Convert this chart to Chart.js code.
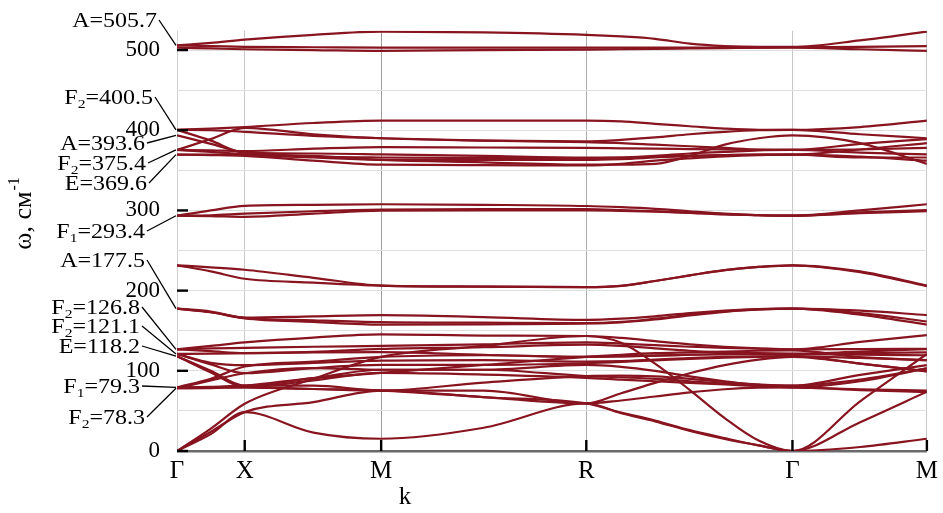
<!DOCTYPE html>
<html><head><meta charset="utf-8">
<script src="https://cdn.jsdelivr.net/npm/chart.js@4.4.0/dist/chart.umd.min.js"></script>
<style>html,body{margin:0;padding:0;background:#fff;}#wrap{width:943px;height:513px;}</style>
</head><body><div id="wrap"><canvas id="c" width="943" height="513"></canvas></div>
<script>
// k-path sample positions (Γ, X, M, R, Γ, M and points between)
const kGrid = [0, 34, 68, 137, 205, 308, 411, 446, 480, 515, 550, 584, 618, 686, 753];
const symK = [0, 68, 205, 411, 618, 753];
const symLabels = ['Γ', 'X', 'M', 'R', 'Γ', 'M'];
const yGridValues = [0, 50, 100, 150, 200, 250, 300, 350, 400, 450, 500];
const yLabelValues = [0, 100, 200, 300, 400, 500];

// phonon branches, ω (cm^-1) at each kGrid point
const bands500 = [
  [505.7, 509, 513, 519, 523, 522, 519, 517, 514, 508, 505, 504, 504, 512, 523],
  [505.7, 505, 504, 503.5, 503, 503, 503, 503, 503, 503, 503, 503, 503.5, 504, 505],
  [503, 502, 501, 500, 499, 500, 500.5, 501, 501.5, 502, 502.5, 503, 503, 501, 499]
];
const bands400 = [
  [400.5, 402, 404, 409, 412, 412, 412, 411, 408, 405, 402, 400.5, 400.5, 404, 412],
  [400.5, 387, 372, 371, 370, 368, 366, 366, 367, 368, 369, 369.5, 369.6, 366, 366],
  [400.5, 400, 398, 393, 390, 387, 386, 388, 391, 395, 398, 400, 400.5, 395, 390],
  [393.6, 383, 372, 368, 363, 360, 357, 357, 358, 368, 382, 390, 393.6, 384, 358],
  [375.4, 389, 403, 395, 390, 387, 385, 384, 382, 380, 378, 376, 375.4, 383, 389],
  [375.4, 375, 374, 377, 379, 378.5, 378, 377.5, 377, 376.5, 376, 375.5, 375.4, 376, 378],
  [375.4, 373, 370, 367, 366, 365.5, 365, 366, 368, 371, 373, 375, 375.4, 372, 370],
  [369.6, 369, 368, 362, 357, 356.5, 356, 358, 362, 365, 367.5, 369, 369.6, 367, 362],
  [369.6, 369.5, 369, 366, 363, 363, 363, 364, 366, 368, 369, 369.5, 369.6, 376, 384]
];
const bands300 = [
  [293.4, 300, 305.7, 307, 307.7, 307, 305.5, 304, 302, 299, 296, 294, 293.4, 300, 307.7],
  [293.4, 293, 292, 296, 299.7, 300, 300, 299.5, 298.5, 297, 295.5, 294, 293.4, 296.5, 299],
  [293.4, 294, 296, 299, 301, 301.5, 301.5, 300.5, 299, 297, 295, 294, 293.4, 297.5, 300.5]
];
const bands230 = [
  [231.6, 229, 226, 216, 206.3, 205, 204.3, 206, 212, 219, 225.5, 229.5, 231.6, 224, 206.3],
  [231.6, 224, 214.8, 210, 206.3, 205, 204.3, 206, 212, 219, 225.5, 229.5, 231.6, 223, 205.5]
];
const bands170 = [
  [177.5, 174, 166.3, 168, 169.5, 167, 163.5, 165, 168, 172, 175, 177, 177.5, 175, 169.5],
  [177.5, 173, 166, 163, 160.7, 160, 159.5, 161, 165, 170, 174, 176.5, 177.5, 172, 161.5],
  [177.5, 173, 165.5, 161, 157.5, 158, 159, 160.5, 164, 169, 173.5, 176.5, 177.5, 170, 157.5]
];
const bandsLow = [
  [126.8, 131, 135.4, 141.5, 145.4, 144, 143.4, 141, 137, 133, 130, 128, 126.8, 136, 144.6],
  [126.8, 128, 128.6, 130, 131, 133, 135.4, 134, 132, 130, 128.5, 127.5, 126.8, 127, 127.4],
  [126.8, 124.5, 122, 123.5, 127.4, 129.4, 132.6, 131, 128, 125, 123, 122, 121.1, 122, 123],
  [121.1, 121.5, 122, 123, 123.4, 120, 117.4, 118, 119, 120, 120.5, 121, 121.1, 120, 119.4],
  [121.1, 110, 107, 110, 112.6, 113.3, 111.4, 112, 114, 116, 117.5, 118, 118.2, 116, 113.3],
  [121.1, 108, 97, 103.4, 107.3, 107.3, 109.4, 111, 113, 115, 116.5, 117.5, 118.2, 109, 99.4],
  [118.2, 100, 81.4, 91, 101.3, 101.3, 93.4, 92, 90, 87, 84, 82, 81.4, 89, 103],
  [118.2, 98, 80, 88, 97.4, 95.3, 91.3, 89, 87, 85, 83, 81, 79.3, 77, 75.4],
  [79.3, 90, 105.4, 111.4, 117.4, 119.4, 117.4, 118, 119, 120, 121, 121.2, 121.1, 124, 127],
  [79.3, 80, 81.4, 81.4, 75.4, 85.3, 93.4, 94, 93, 90, 86, 83, 81.4, 95, 107],
  [79.3, 79.5, 79.3, 77.3, 75.4, 67.3, 59.3, 72, 85, 97, 107, 114, 117.4, 109, 99.4],
  [78.3, 78.5, 79.3, 77.3, 75.4, 75.3, 59.3, 63, 68, 73, 77, 79, 79.3, 76, 73.3],
  [78.3, 88, 97, 103.4, 101.3, 101.3, 107.3, 105, 100, 93, 87, 82, 79.3, 87, 103],
  [78.3, 79, 81.4, 91, 97.4, 107.3, 117.4, 120, 122, 123, 124, 125, 125.4, 117, 113.3]
];
const bandsAcoustic = [
  [0, 21, 48.5, 23, 15.3, 29, 59.3, 47, 37, 25, 15, 7, 0, 5, 15.3],
  [0, 24, 48.5, 61, 75.4, 67, 59.3, 48, 38, 26, 16, 7, 0, 36, 74],
  [0, 28, 59, 90, 117.4, 131, 143.4, 135, 109, 76, 41, 13, 0, 62, 121]
];

// Γ-point mode labels
const annSymbol = ['A', 'F', 'A', 'F', 'E', 'F', 'A', 'F', 'F', 'E', 'F', 'F'];
const annSub = ['', '2', '', '2', '', '1', '', '2', '2', '', '1', '2'];
const annValue = [505.7, 400.5, 393.6, 375.4, 369.6, 293.4, 177.5, 126.8, 121.1, 118.2, 79.3, 78.3];
// label layout (pixel centre y, right edge x)
const annTextY = [20, 97, 143, 163, 183, 231, 260, 307, 326, 346, 386, 417];
const annTextRight = [157, 153, 145, 146, 147, 145, 145, 140, 140, 140, 140, 145];

const allBands = [].concat(bands500, bands400, bands300, bands230, bands170, bandsLow, bandsAcoustic);
const LINE = 'rgb(136,20,32)';
const datasets = allBands.map(b => ({
  data: kGrid.map((k, i) => ({ x: k, y: b[i] })),
  borderColor: LINE, borderWidth: 2.2, pointRadius: 0, fill: false,
  cubicInterpolationMode: 'monotone'
}));

const SERIF = "'Liberation Serif', 'Times New Roman', serif";
const vGridColors = ['#cfcfcf', '#c8c8c8', '#9c9c9c', '#ababab', '#c8c8c8', '#c8c8c8'];

const decor = {
  id: 'decor',
  afterDatasetsDraw(chart) {
    const { ctx, chartArea: a, scales: { x, y } } = chart;
    ctx.save();
    ctx.fillStyle = '#000';
    yLabelValues.forEach(v => { const py = y.getPixelForValue(v); ctx.fillRect(a.left, py - 1.2, 11, 2.4); });
    symK.slice(1).forEach(k => { const px = x.getPixelForValue(k); ctx.fillRect(px - 1.2, a.bottom - 11, 2.4, 11); });

    // annotations
    const big = '20px ' + SERIF, small = '13px ' + SERIF, sx = 1.2;
    annSymbol.forEach((s, i) => {
      const rest = '=' + annValue[i].toFixed(1);
      ctx.font = big; const w1 = ctx.measureText(s).width, w3 = ctx.measureText(rest).width;
      ctx.font = small; const w2 = annSub[i] ? ctx.measureText(annSub[i]).width : 0;
      const total = (w1 + w2 + w3) * sx;
      ctx.save();
      ctx.translate(annTextRight[i] - total, annTextY[i] + 7);
      ctx.scale(sx, 1);
      ctx.textBaseline = 'alphabetic'; ctx.textAlign = 'left';
      let cx = 0;
      ctx.font = big; ctx.fillText(s, cx, 0); cx += w1;
      if (annSub[i]) { ctx.font = small; ctx.fillText(annSub[i], cx, 4); cx += w2; }
      ctx.font = big; ctx.fillText(rest, cx, 0);
      ctx.restore();
      // leader line
      ctx.strokeStyle = '#000'; ctx.lineWidth = 1.3;
      ctx.beginPath();
      ctx.moveTo(annTextRight[i] + 2, annTextY[i]);
      ctx.lineTo(a.left - 1, y.getPixelForValue(annValue[i]));
      ctx.stroke();
    });

    // y axis title
    ctx.save();
    ctx.translate(31, 214);
    ctx.rotate(-Math.PI / 2);
    ctx.textBaseline = 'alphabetic'; ctx.textAlign = 'left';
    const tMain = 'ω, см', tSup = '-1';
    ctx.font = '26px ' + SERIF; const wm = ctx.measureText(tMain).width;
    ctx.font = '16px ' + SERIF; const ws = ctx.measureText(tSup).width;
    const start = -(wm + ws) / 2;
    ctx.font = '26px ' + SERIF; ctx.fillText(tMain, start, 0);
    ctx.font = '16px ' + SERIF; ctx.fillText(tSup, start + wm + 1, -12);
    ctx.restore();

    // x axis title
    ctx.font = '25px ' + SERIF; ctx.textAlign = 'center'; ctx.textBaseline = 'alphabetic';
    ctx.fillText('k', 405, 504);
    ctx.restore();
  }
};

new Chart(document.getElementById('c'), {
  type: 'line',
  data: { datasets },
  plugins: [decor],
  options: {
    responsive: false, animation: false, devicePixelRatio: 1,
    layout: { padding: { top: 15, right: 13, left: 0, bottom: 0 } },
    plugins: { legend: { display: false }, tooltip: { enabled: false } },
    scales: {
      x: {
        type: 'linear', min: 0, max: 753,
        afterBuildTicks: s => { s.ticks = symK.map(v => ({ value: v })); },
        afterFit: s => { s.height = 62; },
        ticks: { autoSkip: false, maxRotation: 0, padding: 5, color: '#000',
          font: { family: SERIF, size: 25 }, callback: (v, i) => symLabels[i] },
        grid: { color: c => vGridColors[c.index] || '#c8c8c8', lineWidth: 1, drawTicks: false },
        border: { display: false }
      },
      y: {
        type: 'linear', min: 0, max: 524,
        afterBuildTicks: s => { s.ticks = yGridValues.map(v => ({ value: v })); },
        afterFit: s => { s.width = 177; },
        ticks: { padding: 17, color: '#000', font: { family: SERIF, size: 23 },
          callback: v => (yLabelValues.includes(v) ? String(v) : '') },
        grid: { color: c => (c.tick && c.tick.value === 0 ? '#6a6a6a' : '#dedede'),
          lineWidth: c => (c.tick && c.tick.value === 0 ? 2.5 : 1), drawTicks: false },
        border: { display: false }
      }
    }
  }
});
</script>
</body></html>
